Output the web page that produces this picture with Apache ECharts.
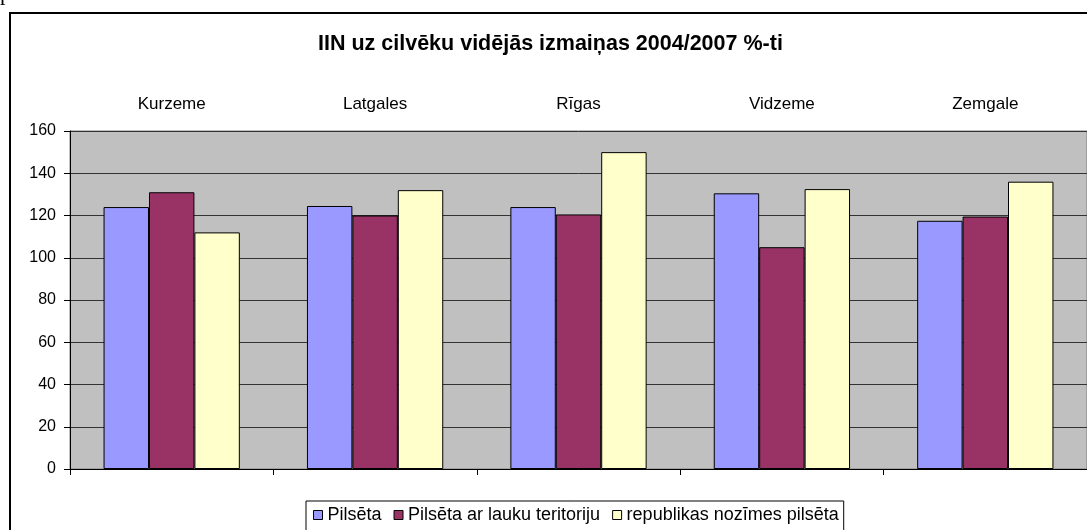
<!DOCTYPE html>
<html>
<head>
<meta charset="utf-8">
<script src="https://cdn.jsdelivr.net/npm/echarts@6/dist/echarts.min.js"></script>
<style>
  html, body { margin: 0; padding: 0; background: #fff; }
  #chart { width: 1087px; height: 530px; }
</style>
</head>
<body>
<div id="chart"></div>
<script>
const TITLE = 'IIN uz cilvēku vidējās izmaiņas 2004/2007 %-ti'
const regions = ['Kurzeme', 'Latgales', 'Rīgas', 'Vidzeme', 'Zemgale']
const seriesNames = ['Pilsēta', 'Pilsēta ar lauku teritoriju', 'republikas nozīmes pilsēta']
const pilseta = [124, 124.5, 124, 130.5, 117.5]
const arLauku = [131, 120, 120.5, 105, 119.5]
const republikas = [112, 132, 150, 132.5, 136]
const yTicks = { min: 0, max: 160, interval: 20 }

const COLORS = ['#9999ff', '#993366', '#ffffcc']
const FONT = '"Liberation Sans", Arial, sans-serif'

const chart = echarts.init(document.getElementById('chart'), null, { renderer: 'canvas' })

const barSeries = [pilseta, arLauku, republikas].map((vals, i) => ({
  name: seriesNames[i],
  type: 'bar',
  xAxisIndex: 0,
  barGap: '0%',
  barCategoryGap: '33%',
  itemStyle: { color: COLORS[i], borderColor: '#000', borderWidth: 1 },
  emphasis: { disabled: true },
  data: vals
}))

chart.setOption({
  animation: false,
  color: COLORS,
  title: {
    text: TITLE,
    left: 318,
    top: 33,
    padding: 0,
    textStyle: { fontFamily: FONT, fontSize: 21.5, fontWeight: 'bold', color: '#000' }
  },
  legend: {
    data: seriesNames,
    left: 306,
    top: 501,
    padding: [5, 5, 12, 7],
    itemGap: 12,
    itemWidth: 9,
    itemHeight: 9,
    icon: 'rect',
    borderColor: '#000',
    borderWidth: 1,
    itemStyle: { borderColor: '#000', borderWidth: 1 },
    textStyle: { fontFamily: FONT, fontSize: 18, color: '#000' }
  },
  grid: {
    left: 70,
    top: 131,
    width: 1018,
    height: 338,
    show: true,
    backgroundColor: '#c0c0c0',
    borderColor: '#808080',
    borderWidth: 1
  },
  xAxis: [
    {
      type: 'category',
      data: regions,
      position: 'bottom',
      axisLine: { lineStyle: { color: '#000', width: 1 } },
      axisTick: { show: true, length: 6, lineStyle: { color: '#000' } },
      axisLabel: { show: false },
      splitLine: { show: false }
    },
    {
      type: 'category',
      data: regions,
      position: 'top',
      axisLine: { show: false },
      axisTick: { show: false },
      axisLabel: { interval: 0, margin: 18, fontFamily: FONT, fontSize: 17, color: '#000' },
      splitLine: { show: false }
    }
  ],
  yAxis: {
    type: 'value',
    min: yTicks.min,
    max: yTicks.max,
    interval: yTicks.interval,
    axisLine: { show: true, lineStyle: { color: '#000', width: 1 } },
    axisTick: { show: true, length: 6, lineStyle: { color: '#000' } },
    axisLabel: { margin: 14, fontFamily: FONT, fontSize: 16, color: '#000' },
    splitLine: { show: true, lineStyle: { color: '#333', width: 1 } }
  },
  graphic: [
    {
      type: 'rect',
      silent: true,
      shape: { x: 10, y: 13, width: 1200, height: 700 },
      style: { fill: 'none', stroke: '#000', lineWidth: 2 }
    },
    {
      type: 'text',
      silent: true,
      x: 0,
      y: 5,
      style: {
        text: 'p',
        font: '22px "Liberation Serif", serif',
        fill: '#000',
        verticalAlign: 'bottom'
      }
    }
  ],
  series: barSeries
})
</script>
</body>
</html>
